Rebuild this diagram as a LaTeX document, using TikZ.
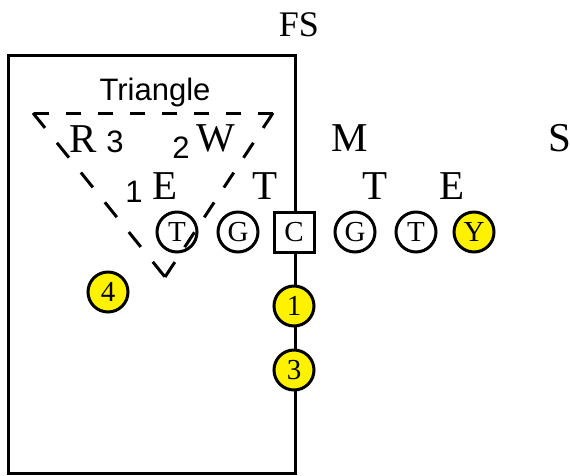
\documentclass[tikz,border=0pt]{standalone}
\usepackage{fontspec}
\setmainfont{Liberation Serif}
\newfontfamily\trisans{Liberation Sans}
\usetikzlibrary{positioning}

\tikzset{
  player/.style={draw, circle, line width=3pt, fill=white, minimum size=40pt,
    inner sep=0pt, font=\fontsize{29}{29}\selectfont},
  yplayer/.style={player, fill=yellow},
  snapper/.style={player, rectangle},
  defender/.style={inner sep=0pt, font=\fontsize{41}{41}\selectfont},
  zonenum/.style={inner sep=0pt, font=\trisans\fontsize{31}{31}\selectfont},
  zoneline/.style={line width=3pt, dash pattern=on 19.1pt off 19.1pt},
}

\begin{document}
\begin{tikzpicture}[x=1pt, y=-1pt]
    \useasboundingbox (0,0) rectangle (570,475);

    % zone box
    \draw[line width=3pt] (8,55) rectangle (295,473);

    % offense
    \node[player] (lt) at (177,232) {T};
    \node[player] (lg) at (238,232) {G};
    \node[snapper] (c) at (294,232) {C};
    \node[player] (rg) at (355,232) {G};
    \node[player] (rt) at (416,232) {T};
    \node[yplayer] (y) at (474,232) {Y};
    \node[yplayer] (b1) at (294,306) {1};
    \node[yplayer] (b3) at (294,370) {3};
    \node[yplayer] (b4) at (108,292) {4};

    % triangle
    \coordinate (tl) at (33,113);
    \coordinate (tr) at (273,113);
    \coordinate (tip) at (165,277);
    \draw[zoneline, dash pattern=on 15pt off 17pt] (tr) -- (tl);
    \draw[zoneline] (tl) -- (tip);
    \draw[zoneline, dash pattern=on 17.85pt off 17.85pt] (tr) -- (tip);
    \node[inner sep=0pt, anchor=base, font=\trisans\fontsize{31}{31}\selectfont] (tri) at (155,100) {Triangle};

    % defense
    \node[defender, font=\fontsize{36}{36}\selectfont] (fs) at (299,25) {FS};
    \node[defender] (r) at (83,139) {R};
    \node[defender] (w) at (216,138) {W};
    \node[defender] (m) at (350,138) {M};
    \node[defender] (s) at (560,138) {S};
    \node[defender] (le) at (165,186) {E};
    \node[defender] (ltk) at (265,186) {T};
    \node[defender] (rtk) at (375,186) {T};
    \node[defender] (re) at (452,186) {E};

    % zone numbers
    \node[zonenum] (z3) at (115,142) {3};
    \node[zonenum] (z2) at (181,148) {2};
    \node[zonenum] (z1) at (134,192) {1};
\end{tikzpicture}
\end{document}
